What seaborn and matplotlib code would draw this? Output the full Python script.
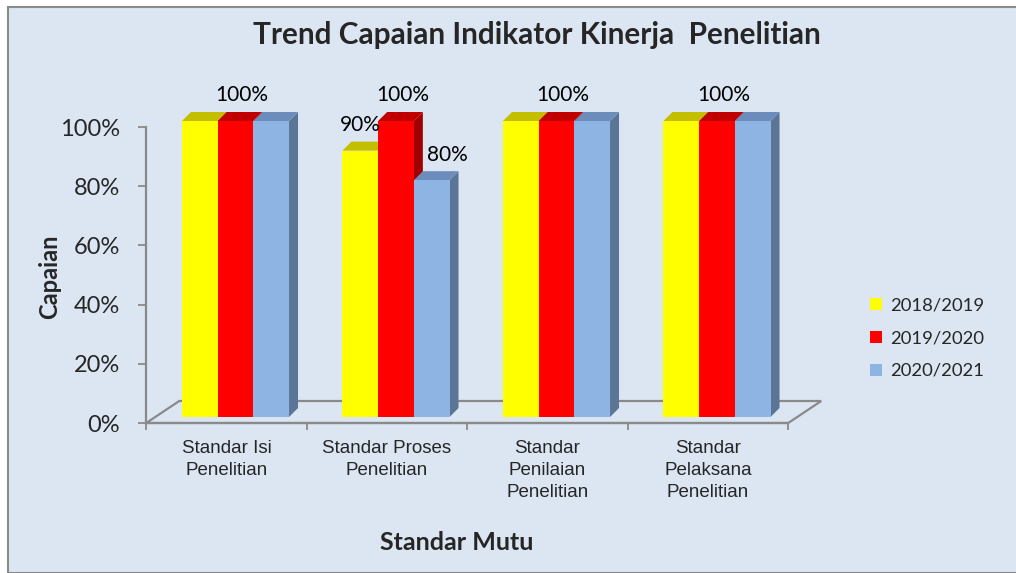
import numpy as np
import pandas as pd
import matplotlib
matplotlib.use("Agg")
import matplotlib.pyplot as plt
import seaborn as sns
from matplotlib.patches import Polygon, Rectangle
from matplotlib.lines import Line2D

# data
categories = ["Standar Isi\nPenelitian", "Standar Proses\nPenelitian",
              "Standar\nPenilaian\nPenelitian", "Standar\nPelaksana\nPenelitian"]
periods = ["2018/2019", "2019/2020", "2020/2021"]
capaian_1819 = [1.0, 0.9, 1.0, 1.0]
capaian_1920 = [1.0, 1.0, 1.0, 1.0]
capaian_2021 = [1.0, 0.8, 1.0, 1.0]
# which bars show a data label in the original
shown_1819 = [False, True, False, False]
shown_1920 = [True, True, True, True]
shown_2021 = [False, True, False, False]
yticks = [0, 0.2, 0.4, 0.6, 0.8, 1.0]

front_colors = ["#FFFF00", "#FF0000", "#8DB4E2"]
top_colors = ["#C4BE00", "#C00000", "#6C8DBB"]
side_colors = ["#B5B000", "#A00000", "#5B7597"]
bg = "#DCE6F2"
grey = "#8A8A8A"

df = pd.DataFrame({
    "Standar": categories * 3,
    "Periode": [p for p in periods for _ in categories],
    "Capaian": capaian_1819 + capaian_1920 + capaian_2021,
})
shown = [shown_1819, shown_1920, shown_2021]

sns.set_style("white")
plt.rcParams["font.family"] = ["Lato", "DejaVu Sans"]

W, H = 1016, 573
fig = plt.figure(figsize=(W / 100, H / 100), dpi=100)
fig.patch.set_facecolor("white")
fig.patches.append(Rectangle((8 / W, 0), 1.2, 1 - 7 / H, transform=fig.transFigure,
                             facecolor=bg, edgecolor=grey, lw=1.5, zorder=-10))

# axes: front plane, x from -0.5..3.5, y 0..1
left, right, y0px, y1px = 146.25, 788.25, 423, 127
ax = fig.add_axes([left / W, 1 - y0px / H, (right - left) / W, (y0px - y1px) / H])
ax.set_facecolor("none")

sns.barplot(data=df, x="Standar", y="Capaian", hue="Periode", palette=front_colors,
            width=0.667, saturation=1, legend=False, ax=ax, linewidth=0)
ax.set_xlim(-0.5, 3.5)
ax.set_ylim(0, 1)

ux = (right - left) / 4.0      # px per category
uy = (y0px - y1px) / 1.0       # px per unit
fdx, fdy = 33 / ux, 22 / uy    # floor depth
odx, ody = 9 / ux, 6 / uy      # bar front plane offset
bdx, bdy = 9 / ux, 9 / uy      # bar thickness

# floor
floor = Polygon([(-0.5, 0), (3.5, 0), (3.5 + fdx, fdy), (-0.5 + fdx, fdy)], closed=True,
                fill=False, edgecolor=grey, lw=1.6, clip_on=False, zorder=2)
ax.add_patch(floor)

for h, cont in enumerate(ax.containers):
    for i, bar in enumerate(cont):
        x = bar.get_x() + odx
        w = bar.get_width()
        top = bar.get_height() + ody
        bar.set_x(x)
        bar.set_y(ody)
        bar.set_zorder(10 + 3 * h + 2)
        bar.set_clip_on(False)
        side = Polygon([(x + w, ody), (x + w + bdx, ody + bdy), (x + w + bdx, top + bdy), (x + w, top)],
                       closed=True, facecolor=side_colors[h], lw=0, zorder=10 + 3 * h, clip_on=False)
        cap = Polygon([(x, top), (x + w, top), (x + w + bdx, top + bdy), (x + bdx, top + bdy)],
                      closed=True, facecolor=top_colors[h], lw=0, zorder=10 + 3 * h + 1, clip_on=False)
        ax.add_patch(side)
        ax.add_patch(cap)
        if shown[h][i]:
            dx = 0 if h == 0 else (11 if h == 2 else 4.7)
            ax.annotate(f"{bar.get_height():.0%}", (x + w / 2, top), xytext=(dx, 18.5),
                        textcoords="offset points", ha="center", va="center",
                        fontsize=15, color="black", zorder=30, annotation_clip=False)

# axes lines and ticks
for s in ["top", "right"]:
    ax.spines[s].set_visible(False)
ax.spines["left"].set_color(grey)
ax.spines["left"].set_linewidth(1.6)
ax.spines["left"].set_bounds(0, 1)
ax.spines["bottom"].set_color(grey)
ax.spines["bottom"].set_linewidth(1.6)
ax.set_yticks(yticks)
ax.set_yticklabels([f"{v:.0%}" for v in yticks], fontsize=17)
ax.tick_params(axis="y", length=6, width=1.3, color=grey, pad=13, left=True)
ax.set_xticks(range(len(categories)))
ax.set_xticklabels(categories, fontsize=13.5, family="Liberation Sans", linespacing=1.38)
ax.tick_params(axis="x", length=0, pad=12)
ax.set_xticks(np.arange(-0.5, 4, 1), minor=True)
ax.tick_params(axis="x", which="minor", length=5, width=1.3, color=grey, bottom=True)
ax.set_xlabel("")
ax.set_ylabel("")

fig.text(537 / W, 1 - 35 / H, "Trend Capaian Indikator Kinerja  Penelitian",
         ha="center", va="center", fontsize=21.4, fontweight="bold")
fig.text(50 / W, 1 - 277 / H, "Capaian", rotation=90, ha="center", va="center",
         fontsize=17, fontweight="bold")
fig.text(457 / W, 1 - 542 / H, "Standar Mutu", ha="center", va="center",
         fontsize=18, fontweight="bold")

handles = [Line2D([], [], marker="s", ls="none", markersize=8, markerfacecolor=c,
                  markeredgewidth=0) for c in front_colors]
fig.legend(handles, periods, loc="center left", bbox_to_anchor=(859 / W, 1 - 338 / H),
           frameon=False, fontsize=13.3, handlelength=0.8, handletextpad=0.4,
           labelspacing=0.92, borderpad=0)

fig.savefig("out.png", dpi=100)
